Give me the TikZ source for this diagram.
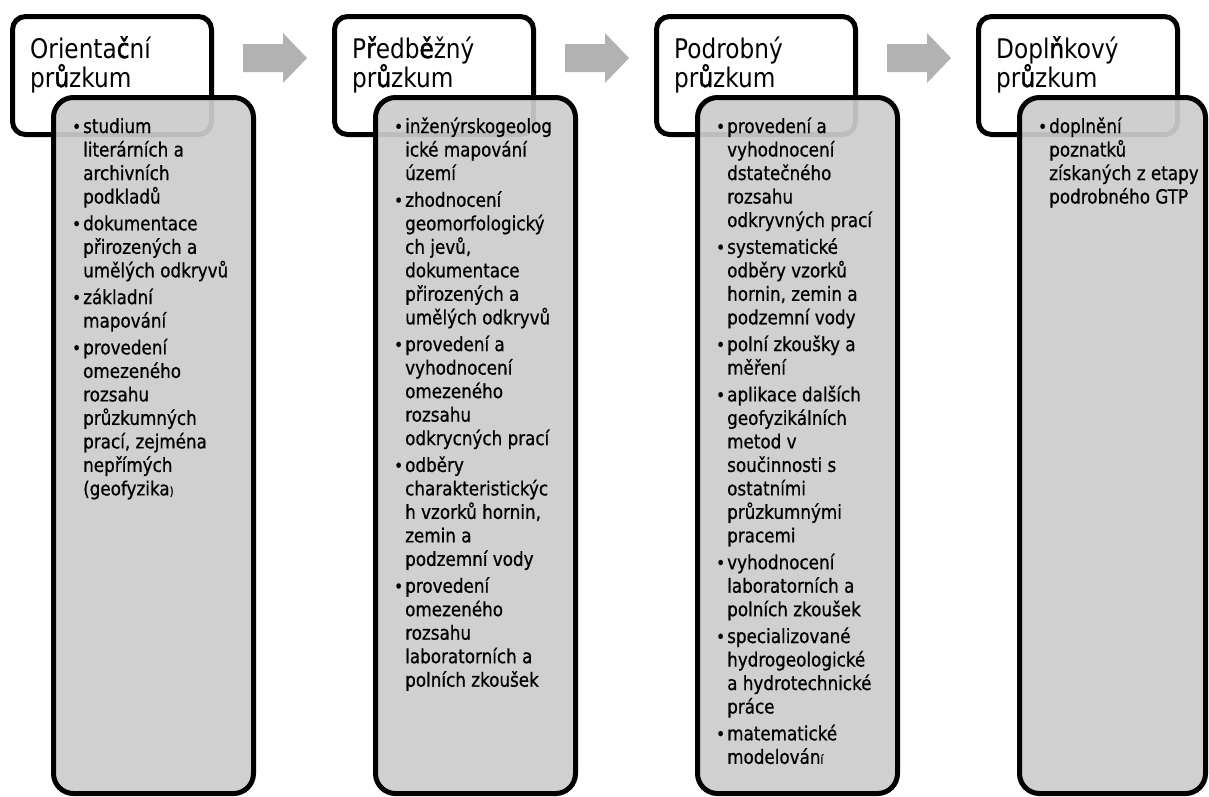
\documentclass[tikz,border=0pt]{standalone}
\usepackage{fontspec}
\setmainfont{DejaVu Sans}[FakeStretch=0.86]
\newfontfamily\bodyfam{DejaVu Sans}[FakeStretch=0.86, FakeBold=0.7]
\newfontfamily\accfam{DejaVu Sans}[FakeStretch=0.86, FakeBold=1.6]
\definecolor{boxgray}{RGB}{204,204,204}
\definecolor{arrowgray}{RGB}{178,178,178}
\newcommand\titlebox[2]{\vtop{\fontsize{27pt}{29pt}\selectfont\hbox{#1}\hbox{#2}}}
\newcommand\ac[1]{{\accfam #1}}
\newcommand\li[1]{\hbox{#1}}
\newcommand\bl{\llap{{\fontsize{18pt}{18pt}\selectfont •}\hspace{2pt}}}
\newcommand\gp{\kern3.3pt}
\newcommand\bodyfont{\bodyfam\fontsize{19.5pt}{23.5pt}\selectfont}
\newcommand\sm[1]{{\fontsize{12pt}{12pt}\selectfont #1}}
\tikzset{
  headbox/.style={draw=black, line width=5pt, fill=white, rounded corners=13pt,
    minimum width=199pt, minimum height=118pt, inner sep=0pt},
  bodybox/.style={draw=black, line width=5pt, fill=boxgray, fill opacity=0.93,
    rounded corners=20pt, minimum height=696pt, inner sep=0pt},
  txt/.style={anchor=base west, inner sep=0pt, text=black},
  blockarrow/.style={fill=arrowgray}
}
\begin{document}
\begin{tikzpicture}[x=1pt,y=-1pt]
\useasboundingbox (0,0) rectangle (1209,796);
% block arrows
\foreach \dx/\nm in {0/a1,322/a2,644/a3}{
  \coordinate (\nm) at (243+\dx,58);
  \fill[blockarrow] (\nm) ++(0,-14) -- ++(40,0) -- ++(0,-11) -- ++(24,25)
     -- ++(-24,25) -- ++(0,-11) -- ++(-40,0) -- cycle;
}
% headers
\node[headbox] (h1) at (112,75.5) {};
\node[headbox] (h2) at (434,75.5) {};
\node[headbox] (h3) at (756,75.5) {};
\node[headbox] (h4) at (1078,75.5) {};
% bodies
\node[bodybox, minimum width=200pt] (b1) at (153.5,445.5) {};
\node[bodybox, minimum width=200pt] (b2) at (475.5,445.5) {};
\node[bodybox, minimum width=200pt] (b3) at (797.5,445.5) {};
\node[bodybox, minimum width=186pt] (b4) at (1112.5,445.5) {};
% titles
\node[txt] (t1) at (30,58) {\titlebox{Orienta\ac{č}ní}{pr\ac{ů}zkum}};
\node[txt] (t2) at (352,58) {\titlebox{P\ac{ř}edb\ac{ě}žný}{pr\ac{ů}zkum}};
\node[txt] (t3) at (674,58) {\titlebox{Podrobný}{pr\ac{ů}zkum}};
\node[txt] (t4) at (996,58) {\titlebox{Dopl\ac{ň}kový}{pr\ac{ů}zkum}};
% body texts
\node[txt] (l1) at (83,133) {\vtop{\bodyfont
\li{\bl studium}
\li{literárních a}
\li{archivních}
\li{podkladů}\gp
\li{\bl dokumentace}
\li{přirozených a}
\li{umělých odkryvů}\gp
\li{\bl základní}
\li{mapování}\gp
\li{\bl provedení}
\li{omezeného}
\li{rozsahu}
\li{průzkumných}
\li{prací, zejména}
\li{nepřímých}
\li{(geofyzika\sm{)}}}};
\node[txt] (l2) at (405,133) {\vtop{\bodyfont
\li{\bl inženýrskogeolog}
\li{ické mapování}
\li{území}\gp
\li{\bl zhodnocení}
\li{geomorfologický}
\li{ch jevů,}
\li{dokumentace}
\li{přirozených a}
\li{umělých odkryvů}\gp
\li{\bl provedení a}
\li{vyhodnocení}
\li{omezeného}
\li{rozsahu}
\li{odkrycných prací}\gp
\li{\bl odběry}
\li{charakteristickýc}
\li{h vzorků hornin,}
\li{zemin a}
\li{podzemní vody}\gp
\li{\bl provedení}
\li{omezeného}
\li{rozsahu}
\li{laboratorních a}
\li{polních zkoušek}}};
\node[txt] (l3) at (727,133) {\vtop{\bodyfont
\li{\bl provedení a}
\li{vyhodnocení}
\li{dstatečného}
\li{rozsahu}
\li{odkryvných prací}\gp
\li{\bl systematické}
\li{odběry vzorků}
\li{hornin, zemin a}
\li{podzemní vody}\gp
\li{\bl polní zkoušky a}
\li{měření}\gp
\li{\bl aplikace dalších}
\li{geofyzikálních}
\li{metod v}
\li{součinnosti s}
\li{ostatními}
\li{průzkumnými}
\li{pracemi}\gp
\li{\bl vyhodnocení}
\li{laboratorních a}
\li{polních zkoušek}\gp
\li{\bl specializované}
\li{hydrogeologické}
\li{a hydrotechnické}
\li{práce}\gp
\li{\bl matematické}
\li{modelován\sm{í}}}};
\node[txt] (l4) at (1049,133) {\vtop{\bodyfont
\li{\bl doplnění}
\li{poznatků}
\li{získaných z etapy}
\li{podrobného GTP}}};
\end{tikzpicture}
\end{document}
